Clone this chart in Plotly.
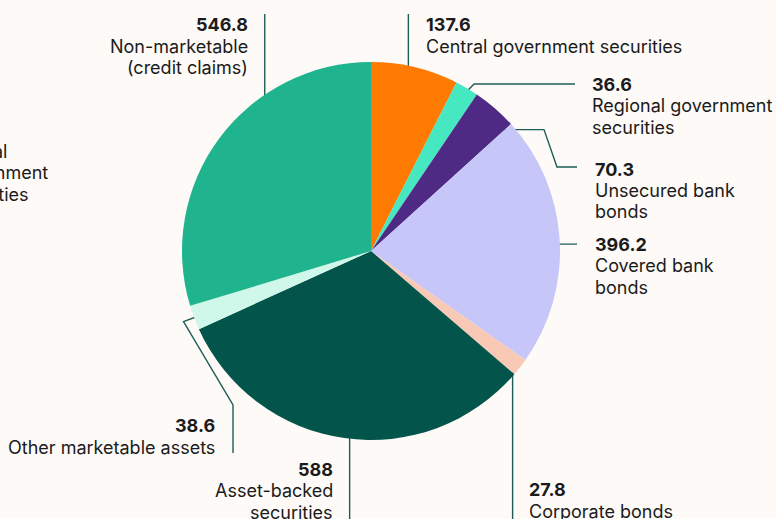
import math
import plotly.graph_objects as go

W, H = 776, 519

# Collateral categories, clockwise from 12 o'clock
categories = [
    "Central government securities",
    "Regional government securities",
    "Unsecured bank bonds",
    "Covered bank bonds",
    "Corporate bonds",
    "Asset-backed securities",
    "Other marketable assets",
    "Non-marketable (credit claims)",
]
label_lines = [
    ["Central government securities"],
    ["Regional government", "securities"],
    ["Unsecured bank", "bonds"],
    ["Covered bank", "bonds"],
    ["Corporate bonds"],
    ["Asset-backed", "securities"],
    ["Other marketable assets"],
    ["Non-marketable", "(credit claims)"],
]
values = [137.6, 36.6, 70.3, 396.2, 27.8, 588, 38.6, 546.8]
colors = ["#ff7a00", "#45e8c0", "#4f2a84", "#c6c6f8", "#f8c9b4",
          "#03554b", "#cff7ea", "#20b48e"]

BG = "#fdfaf7"
LINE = "#1f5d57"
TEXT = "#1b1b1b"
FONT = "Inter"
FSIZE = 18
LEAD = 21.5  # line spacing in px

# pie geometry in pixels
cx, cy, R = 371, 251, 189


def px(x):
    return x / W


def py(y):
    return 1 - y / H


fig = go.Figure()
fig.add_trace(go.Pie(
    labels=categories, values=values, sort=False, direction="clockwise",
    rotation=0, marker=dict(colors=colors, line=dict(width=0)),
    textinfo="none", hoverinfo="label+value", showlegend=False,
    domain=dict(x=[px(cx - R), px(cx + R)], y=[py(cy + R), py(cy - R)]),
))

# mid-angle of each slice (degrees clockwise from top)
total = sum(values)
mids, acc = [], 0.0
for v in values:
    mids.append((acc + v / 2) / total * 360)
    acc += v


def anchor(i, f):
    a = math.radians(mids[i])
    return cx + R * f * math.sin(a), cy - R * f * math.cos(a)


# leader-line route and label placement (x, first-line y, side) per slice
def route(i):
    if i == 0:
        x0, y0 = anchor(0, 0.85)
        return [(x0, y0), (x0, 14)], (x0 + 16, 25, "left")
    if i == 1:
        x0, y0 = anchor(1, 0.95)
        return [(x0, y0), (x0 + 12, 84), (575, 84)], (590, 84, "left")
    if i == 2:
        x0, y0 = anchor(2, 0.85)
        return [(x0, y0), (544, y0), (557, 167), (577, 167)], (593, 169, "left")
    if i == 3:
        x0, y0 = anchor(3, 0.6)
        return [(x0, y0), (577, y0)], (593, y0, "left")
    if i == 4:
        x0, y0 = anchor(4, 0.95)
        return [(x0, y0), (x0, H)], (x0 + 14, 489.5, "left")
    if i == 5:
        x0, y0 = anchor(5, 0.8)
        return [(x0, y0), (x0, H)], (x0 - 15, 469, "right")
    if i == 6:
        x0, y0 = anchor(6, 0.9)
        x1, y1 = anchor(6, 1.06)
        return [(x0, y0), (x1, y1), (233, 405), (233, 453)], (217, 425.5, "right")
    x0, y0 = anchor(7, 0.7)
    return [(x0, y0), (x0, 14)], (x0 - 15, 25, "right")


annotations = []


def add_label(x, y, side, lines):
    for k, line in enumerate(lines):
        annotations.append(dict(
            text=line, xref="paper", yref="paper", x=px(x), y=py(y + k * LEAD),
            xanchor=side, yanchor="middle", align=side, showarrow=False,
            font=dict(family=FONT, size=FSIZE, color=TEXT),
        ))


for i, v in enumerate(values):
    pts, (lx, ly, side) = route(i)
    fig.add_trace(go.Scatter(
        x=[p[0] for p in pts], y=[p[1] for p in pts], mode="lines",
        line=dict(color=LINE, width=1.4), hoverinfo="skip", showlegend=False,
    ))
    add_label(lx, ly, side, [f"<b>{v:g}</b>"] + label_lines[i])

# label of the neighbouring panel, running off the left edge
add_label(-56, 151, "left", ["Central", "government", "securities"])

fig.update_layout(
    width=W, height=H, margin=dict(l=0, r=0, t=0, b=0),
    paper_bgcolor=BG, plot_bgcolor=BG,
    xaxis=dict(range=[0, W], visible=False, domain=[0, 1], fixedrange=True),
    yaxis=dict(range=[H, 0], visible=False, domain=[0, 1], fixedrange=True),
    annotations=annotations,
)

fig.write_html("out.html")
